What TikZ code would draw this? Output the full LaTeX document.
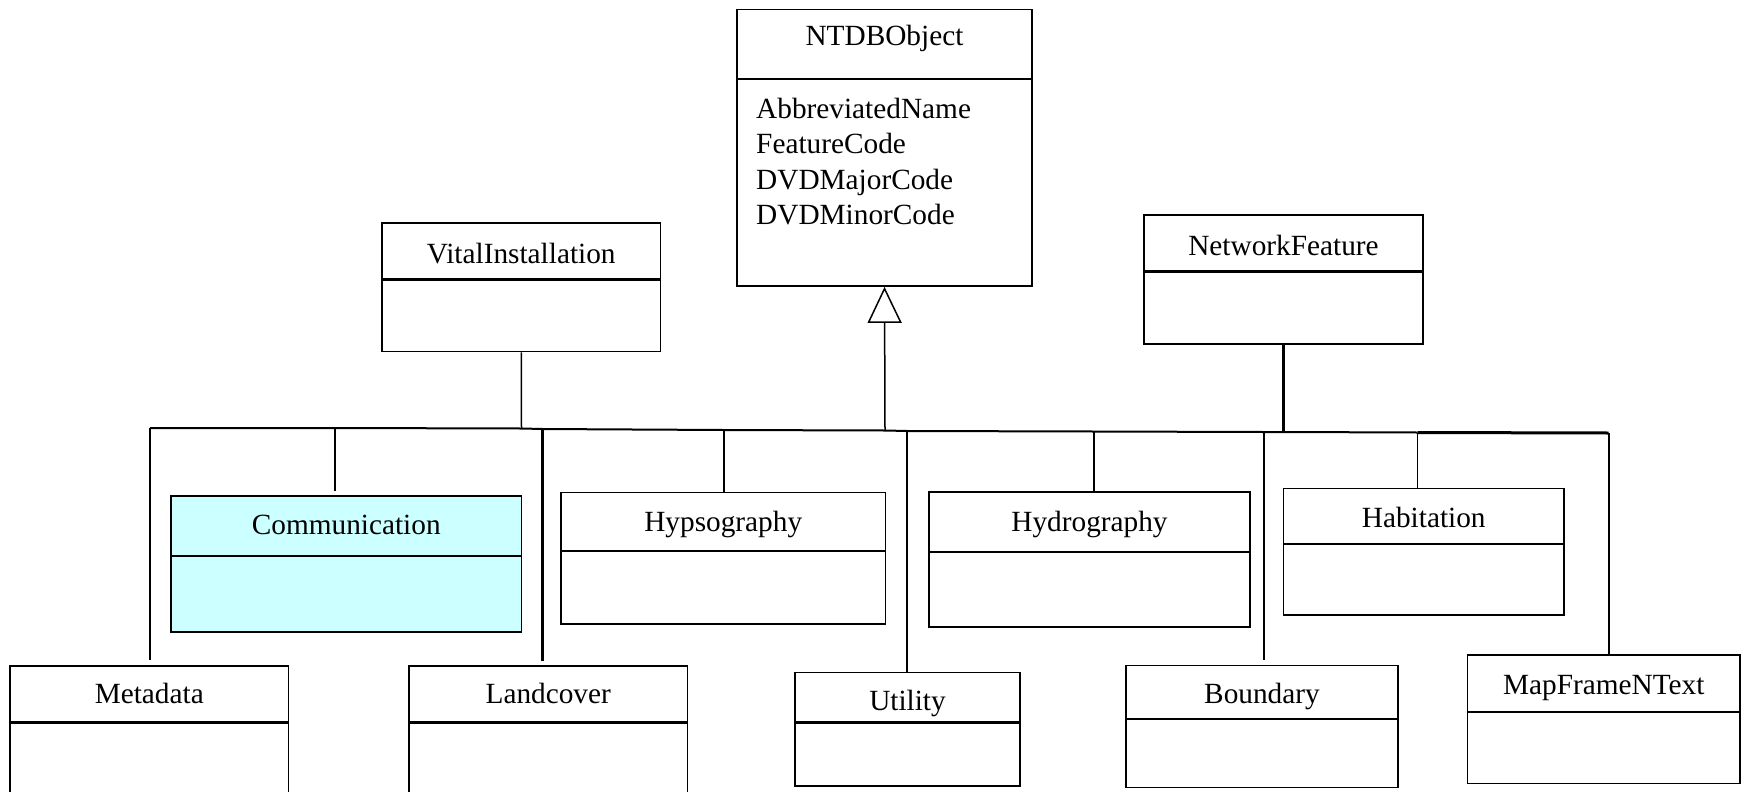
\documentclass[tikz,border=0pt]{standalone}
\usepackage{fontspec}
\setmainfont{Liberation Serif}
\usetikzlibrary{fit,arrows.meta}
\definecolor{commcyan}{HTML}{CCFFFF}
\tikzset{
  clsbox/.style={draw=black, line width=1.8pt, inner sep=0pt},
  hdr/.style={line width=2.6pt},
  ttl/.style={font=\fontsize{29.3}{35}\selectfont, anchor=base, inner sep=0pt},
  attr/.style={font=\fontsize{29.3}{35}\selectfont, anchor=base west, inner sep=0pt},
  conn/.style={line width=2pt},
  thinconn/.style={line width=1.5pt},
  bus/.style={line width=2pt},
  gen/.style={-{Triangle[open,length=36pt,width=34pt,line width=1.5pt]}},
}
% #1 name, #2 x1, #3 y1, #4 x2, #5 y2, #6 header y, #7 title baseline, #8 title, #9 fill
\newcommand\umlclass[9]{%
  \node[clsbox, fill=#9, fit={(#2,#3) (#4,#5)}] (#1) {};
  \draw[hdr] (#2,#6) -- (#4,#6);
  \node[ttl] (#1-t) at ({(#2+#4)/2},#7) {#8};
}
\begin{document}
\begin{tikzpicture}[x=1pt,y=-1pt]
\useasboundingbox (0,0) rectangle (1742,792);
\clip (0,0) rectangle (1742,792);
\fill[white] (0,0) rectangle (1742,792);

% classes
\umlclass{ntdb}{737}{9.5}{1032}{286}{79}{46}{NTDBObject}{white}
\node[attr] (ntdb-a1) at (756,118) {AbbreviatedName};
\node[attr] (ntdb-a2) at (756,153.5) {FeatureCode};
\node[attr] (ntdb-a3) at (756,189) {DVDMajorCode};
\node[attr] (ntdb-a4) at (756,224.5) {DVDMinorCode};

\umlclass{vi}{382}{223}{660.5}{351.5}{279.5}{263}{VitalInstallation}{white}
\umlclass{nf}{1144}{215}{1423}{344}{271.5}{255}{NetworkFeature}{white}
\umlclass{comm}{171}{496}{521.5}{632}{556}{534}{Communication}{commcyan}
\umlclass{hyps}{561}{492.5}{885.5}{624}{551}{531}{Hypsography}{white}
\umlclass{hydro}{929}{492}{1250}{627}{552}{531}{Hydrography}{white}
\umlclass{hab}{1283.5}{488.5}{1564}{615}{544}{527}{Habitation}{white}
\umlclass{meta}{10}{666}{288.5}{805}{722.5}{703}{Metadata}{white}
\umlclass{land}{409}{666}{687.5}{805}{722.5}{703}{Landcover}{white}
\umlclass{util}{795}{672.5}{1020}{786}{722.5}{710}{Utility}{white}
\umlclass{bound}{1126}{665.5}{1398}{787.5}{719}{703}{Boundary}{white}
\umlclass{mapf}{1467.5}{655}{1740}{783.5}{712}{694}{MapFrameNText}{white}

% bus junctions
\coordinate (b0) at (150,428);
\coordinate (b1) at (335,428);
\coordinate (b2) at (521.5,428.5);
\coordinate (b3) at (542.5,429);
\coordinate (b4) at (723.5,430);
\coordinate (b5) at (885,430.5);
\coordinate (b6) at (907,431);
\coordinate (b7) at (1094,431.5);
\coordinate (b8) at (1263.5,432);
\coordinate (b9) at (1283.5,432);
\coordinate (b10) at (1417.5,432.5);
\coordinate (b11) at (1608.5,433);

\draw[bus] (b0) -- (b1) -- (b2) -- (b3) -- (b4) -- (b5) -- (b6) -- (b7) -- (b8) -- (b9) -- (b10);
\draw[line width=3pt] (b10) -- (b11);

% parents
\draw[thinconn] (vi.south) -- (b2);
\draw[thinconn, gen] (b5) -- (ntdb.south);
\draw[conn, line width=2.5pt] (nf.south) -- (b9);

% children
\draw[conn, shorten >=5pt] (b0) -- (b0 |- meta.north);
\draw[conn, line width=2.5pt, shorten >=4pt] (b1) -- (b1 |- comm.north);
\draw[conn, line width=2.5pt, shorten >=4pt] (b3) -- (b3 |- land.north);
\draw[conn] (b4) -- (b4 |- hyps.north);
\draw[conn, line width=2.5pt] (b6) -- (b6 |- util.north);
\draw[conn] (b7) -- (b7 |- hydro.north);
\draw[conn, shorten >=5pt] (b8) -- (b8 |- bound.north);
\draw[thinconn] (b10) -- (b10 |- hab.north);
\draw[conn] (b11) -- (b11 |- mapf.north);
\end{tikzpicture}
\end{document}
